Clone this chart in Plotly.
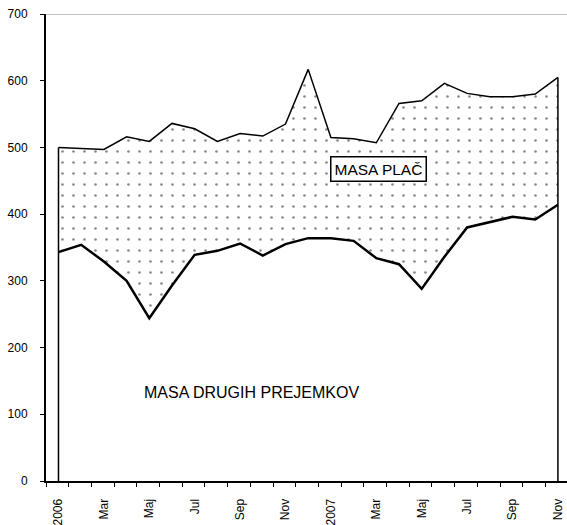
import plotly.graph_objects as go

months = ["2006", "Feb", "Mar", "Apr", "Maj", "Jun", "Jul", "Avg", "Sep", "Okt", "Nov", "Dec",
          "2007", "Feb", "Mar", "Apr", "Maj", "Jun", "Jul", "Avg", "Sep", "Okt", "Nov"]
# total (upper line) and MASA DRUGIH PREJEMKOV (lower line)
upper = [500, 499, 497, 516, 509, 536, 528, 509, 521, 517, 535, 617,
         515, 513, 507, 566, 570, 596, 581, 576, 576, 580, 605]
lower = [343, 354, 329, 300, 244, 293, 339, 345, 356, 338, 355, 364,
         364, 360, 334, 325, 288, 336, 380, 388, 396, 392, 414]
yticks = [0, 100, 200, 300, 400, 500, 600, 700]

FONT = "Liberation Sans, Arial, sans-serif"
x = list(range(len(months)))

fig = go.Figure()
fig.add_trace(go.Scatter(x=x, y=lower, mode="lines",
                         line=dict(color="black", width=2.5), hoverinfo="skip",
                         showlegend=False))
fig.add_trace(go.Scatter(x=x, y=upper, mode="lines", fill="tonexty",
                         fillcolor="white",
                         fillpattern=dict(shape=".", size=11, solidity=0.045,
                                          fgcolor="#111", bgcolor="white"),
                         line=dict(color="black", width=1.5), hoverinfo="skip",
                         showlegend=False))
# vertical edges of the areas at first and last month
fig.add_trace(go.Scatter(x=[x[0], x[0], None, x[-1], x[-1]],
                         y=[0, upper[0], None, 0, upper[-1]], mode="lines",
                         line=dict(color="black", width=1.5), hoverinfo="skip",
                         showlegend=False))

fig.add_annotation(x=8.5, y=132, xref="x", yref="y", text="MASA DRUGIH PREJEMKOV",
                   showarrow=False, font=dict(family=FONT, size=16, color="black"))
fig.add_annotation(x=14.1, y=467, xref="x", yref="y", text="MASA PLAČ",
                   showarrow=False, font=dict(family=FONT, size=15.5, color="black"),
                   bgcolor="white", bordercolor="black", borderwidth=1.5, borderpad=3)

fig.add_shape(type="line", xref="paper", yref="y", x0=0, x1=1, y0=700, y1=700,
              line=dict(color="#888", width=1))

fig.update_layout(
    width=567, height=525,
    margin=dict(l=46, r=0, t=14, b=44, autoexpand=False),
    paper_bgcolor="white", plot_bgcolor="white",
    font=dict(family=FONT, size=12, color="black"),
    xaxis=dict(range=[-0.55, 22.4], showgrid=False, zeroline=False, automargin=False,
               showline=True, linecolor="black", linewidth=2,
               tickmode="array", tickvals=x[::2], ticktext=months[::2],
               tickangle=-90, ticks="", ticklabelstandoff=11,
               tickfont=dict(family=FONT, size=12, color="black"),
               minor=dict(tick0=-0.55, dtick=1, ticks="outside", ticklen=4,
                          tickwidth=1, tickcolor="black", showgrid=False)),
    yaxis=dict(range=[0, 700], showgrid=False, zeroline=False, automargin=False,
               showline=True, linecolor="black", linewidth=2,
               tickmode="array", tickvals=yticks,
               ticks="outside", ticklen=4, tickwidth=1, tickcolor="black",
               ticklabelstandoff=10,
               tickfont=dict(family=FONT, size=12, color="black")),
)

# remove the default 8px page margin so the figure sits at the window's corner
fig.write_html("out.html", config={"displayModeBar": False},
               post_script="document.body.style.margin='0';document.body.style.overflow='hidden';")
